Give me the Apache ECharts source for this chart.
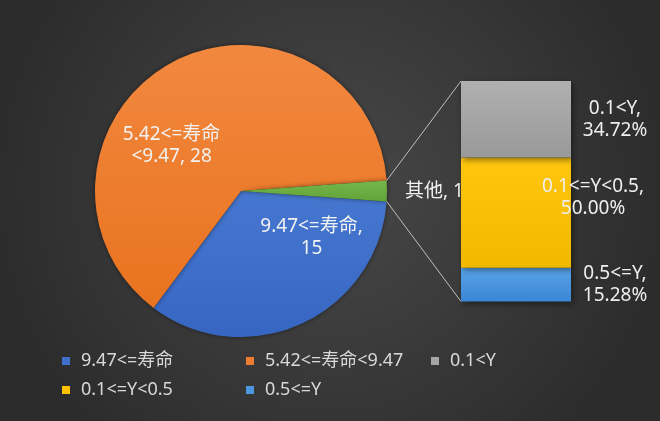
<!DOCTYPE html>
<html>
<head>
<meta charset="utf-8">
<script src="https://cdn.jsdelivr.net/npm/echarts@6/dist/echarts.min.js"></script>
<style>
html,body{margin:0;padding:0;background:#333;}
#main{width:660px;height:421px;}
</style>
</head>
<body>
<div id="main"></div>
<script>
// ---- data ----
const pieNames = ['9.47<=寿命', '5.42<=寿命<9.47', '其他'];
const pieValues = [15, 28, 1];
const barNames = ['0.1<Y', '0.1<=Y<0.5', '0.5<=Y'];
const barValues = [34.72, 50.00, 15.28];
const legendNames = ['9.47<=寿命', '5.42<=寿命<9.47', '0.1<Y', '0.1<=Y<0.5', '0.5<=Y'];

// ---- styles ----
const FONT = '"Microsoft YaHei", "Noto Sans", "Noto Sans CJK SC", sans-serif';
function vgrad(a, b) {
  return new echarts.graphic.LinearGradient(0, 0, 0, 1, [{offset: 0, color: a}, {offset: 1, color: b}]);
}
const pieColors = [vgrad('#4677d0', '#3766c2'), vgrad('#f2883f', '#e9731f'), vgrad('#76b74a', '#62a33a')];
const barColors = [vgrad('#b0b0b0', '#999999'), vgrad('#ffc60d', '#f2b800'), vgrad('#5aa3e8', '#3b86d6')];
const legendIconColors = {
  '9.47<=寿命': '#3f71cc', '5.42<=寿命<9.47': '#ee7d31', '0.1<Y': '#a5a5a5',
  '0.1<=Y<0.5': '#ffc000', '0.5<=Y': '#4a97e0'
};
const legendPos = [[62, 351], [246, 351], [431, 351], [62, 380], [246, 380]];

const chart = echarts.init(document.getElementById('main'));

const pieLabelShift = [[39, -23], [-33, 21], [88, 1]];

const barSeries = [];
for (let i = barNames.length - 1; i >= 0; i--) {
  const shift = i === 1 ? {distance: 22, offset: [0, -15]} : {distance: 44, offset: [0, 0]};
  barSeries.push({
    type: 'bar',
    name: barNames[i],
    stack: 'other',
    z: 3,
    barWidth: '100%',
    data: [barValues[i]],
    itemStyle: {
      color: barColors[i],
      shadowColor: 'rgba(0,0,0,0.45)', shadowBlur: 6, shadowOffsetX: 2, shadowOffsetY: 2
    },
    label: {
      show: true,
      position: 'right',
      align: 'center',
      distance: shift.distance,
      offset: shift.offset,
      fontFamily: FONT,
      fontSize: 19,
      lineHeight: 22,
      color: '#eeeeee',
      formatter: p => p.seriesName + ',\n' + Number(p.value).toFixed(2) + '%'
    }
  });
}

const option = {
  backgroundColor: new echarts.graphic.RadialGradient(0.5, 0.45, 0.8, [
    {offset: 0, color: '#484848'}, {offset: 1, color: '#2c2c2c'}
  ]),
  animation: false,
  legend: legendNames.map((n, i) => ({
    data: [{name: n, itemStyle: {color: legendIconColors[n]}}],
    left: legendPos[i][0],
    top: legendPos[i][1],
    padding: 0,
    icon: 'rect',
    itemWidth: 8,
    itemHeight: 8,
    selectedMode: false,
    textStyle: {fontFamily: FONT, fontSize: 18, lineHeight: 20, color: '#d9d9d9', padding: [0, 0, 0, 6]}
  })),
  grid: {left: 461, top: 81, width: 110, bottom: 119.5, containLabel: false},
  xAxis: {type: 'category', data: ['其他'], show: false},
  yAxis: {type: 'value', min: 0, max: 100, show: false},
  series: [
    {
      type: 'pie',
      z: 1,
      center: [241, 191],
      radius: 146,
      startAngle: -360 * pieValues[2] / (pieValues.reduce((a, b) => a + b, 0)) / 2,
      clockwise: true,
      data: pieNames.map((n, i) => ({name: n, value: pieValues[i], itemStyle: {color: pieColors[i]}})),
      itemStyle: {shadowColor: 'rgba(0,0,0,0.45)', shadowBlur: 5},
      label: {
        show: true,
        position: 'inside',
        fontFamily: FONT,
        fontSize: 19,
        lineHeight: 22,
        color: '#f2f2f2',
        formatter: p => {
          if (p.dataIndex === 0) return p.name + ',\n' + p.value;
          if (p.dataIndex === 1) return p.name.replace('寿命<', '寿命\n<') + ', ' + p.value;
          return p.name + ', ' + p.value;
        }
      },
      labelLine: {show: false},
      labelLayout: p => {
        const s = pieLabelShift[p.dataIndex];
        const r = {dx: s[0], dy: s[1]};
        if (p.dataIndex === 2) r.align = 'left';
        return r;
      },
      emphasis: {disabled: true}
    }
  ].concat(barSeries)
};
chart.setOption(option);

// connector lines from the "其他" slice edge to the bar's top and bottom corners
(function () {
  const model = chart.getModel();
  const pieData = model.getSeriesByIndex(0).getData();
  const lay = pieData.getItemLayout(2);
  const a1 = Math.min(lay.startAngle, lay.endAngle), a2 = Math.max(lay.startAngle, lay.endAngle);
  const p1 = [lay.cx + lay.r * Math.cos(a1), lay.cy + lay.r * Math.sin(a1)];
  const p2 = [lay.cx + lay.r * Math.cos(a2), lay.cy + lay.r * Math.sin(a2)];
  let top = Infinity, bottom = -Infinity, left = Infinity;
  for (let k = 1; k <= barNames.length; k++) {
    const b = model.getSeriesByIndex(k).getData().getItemLayout(0);
    top = Math.min(top, b.y, b.y + b.height);
    bottom = Math.max(bottom, b.y, b.y + b.height);
    left = Math.min(left, b.x, b.x + b.width);
  }
  const upper = p1[1] < p2[1] ? p1 : p2;
  const lower = p1[1] < p2[1] ? p2 : p1;
  const zr = chart.getZr();
  [[upper, top], [lower, bottom]].forEach(([pt, y]) => {
    zr.add(new echarts.graphic.Line({
      z: 2,
      shape: {x1: pt[0], y1: pt[1], x2: left, y2: y},
      style: {stroke: '#bfbfbf', lineWidth: 1}
    }));
  });
})();
</script>
</body>
</html>
